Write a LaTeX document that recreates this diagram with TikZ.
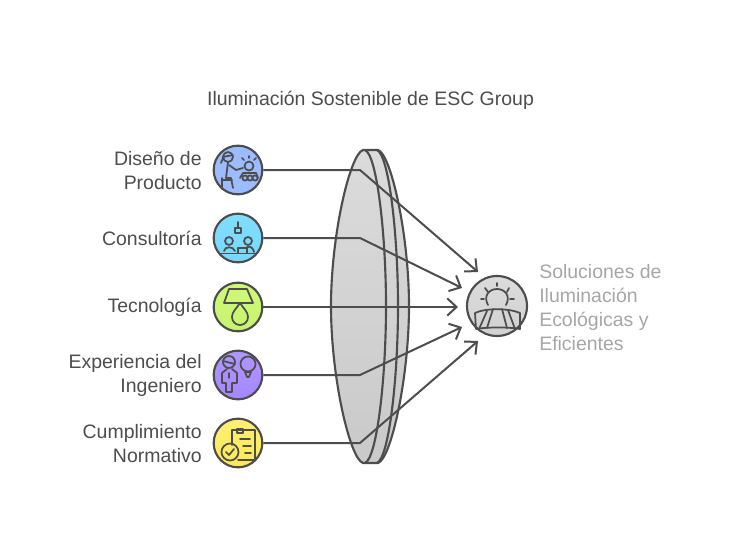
\documentclass[tikz,border=0pt]{standalone}
\usepackage{fontspec}
\setmainfont{Liberation Sans}
\usetikzlibrary{arrows.meta, positioning, calc}

\definecolor{inkgray}{HTML}{4D4D4D}
\definecolor{palegray}{HTML}{A6A6A6}

\tikzset{
    x=0.75pt, y=-0.75pt,
    ball/.style={circle, draw=inkgray, line width=1.6pt, minimum size=36.5pt, inner sep=0pt},
    lbl/.style={text=inkgray, font=\fontsize{14.6pt}{18pt}\selectfont, align=right, inner sep=0pt, yshift=-0.3pt},
    flow/.style={draw=inkgray, line width=1.5pt, line join=round, -{Straight Barb[length=7pt, width=13pt, line width=1.5pt]}},
    ico/.style={draw=inkgray, line width=1.3pt, line join=round, line cap=round},
}

\begin{document}
\begin{tikzpicture}
    \useasboundingbox (0, 0) rectangle (746, 560);

    % lens
    \path[draw=inkgray, line width=1.6pt, top color=black!14, bottom color=black!21]
        (363, 150) .. controls (350, 154) and (331, 235) .. (331, 306)
        .. controls (331, 378) and (350, 459) .. (363, 463)
        -- (378, 463) .. controls (391, 459) and (409, 378) .. (409, 306)
        .. controls (409, 235) and (391, 154) .. (378, 150) -- cycle;
    \draw[inkgray, line width=1.6pt]
        (365, 150) .. controls (377, 155) and (386, 235) .. (386, 306)
        .. controls (386, 378) and (377, 458) .. (365, 463);
    \draw[inkgray, line width=1.6pt]
        (377, 150) .. controls (389, 155) and (398, 235) .. (398, 306)
        .. controls (398, 378) and (389, 458) .. (377, 463);

    \node[lbl] (title) at (370.5, 99.5) {Iluminación Sostenible de ESC Group};

    \node[ball, fill={rgb,255:red,156;green,188;blue,255}] (prod) at (238, 170) {};
    \node[ball, shade, top color={rgb,255:red,128;green,222;blue,255}, bottom color={rgb,255:red,118;green,216;blue,255}] (cons) at (238, 238) {};
    \node[ball, shade, top color={rgb,255:red,208;green,248;blue,122}, bottom color={rgb,255:red,198;green,244;blue,110}] (tecn) at (238, 307) {};
    \node[ball, shade, top color={rgb,255:red,176;green,150;blue,255}, bottom color={rgb,255:red,165;green,135;blue,255}] (expe) at (238, 375) {};
    \node[ball, shade, top color={rgb,255:red,255;green,240;blue,115}, bottom color={rgb,255:red,255;green,232;blue,85}] (cump) at (238, 443) {};
    \node[ball, minimum size=45pt, shade, top color=black!14, bottom color=black!18] (sol) at (497, 306) {};

    \node[lbl, left=8pt of prod] (lprod) {Diseño de\\Producto};
    \node[lbl, left=8pt of cons] (lcons) {Consultoría};
    \node[lbl, left=8pt of tecn] (ltecn) {Tecnología};
    \node[lbl, left=8pt of expe] (lexpe) {Experiencia del\\Ingeniero};
    \node[lbl, left=8pt of cump] (lcump) {Cumplimiento\\Normativo};
    \node[lbl, text=palegray, align=left, anchor=west] (lsol) at (539, 307) {Soluciones de\\Iluminación\\Ecológicas y\\Eficientes};

    \coordinate (b1) at (360, 170);
    \coordinate (b2) at (360, 238);
    \coordinate (b4) at (360, 375);
    \coordinate (b5) at (360, 443);
    \coordinate (t1) at (478, 272);
    \coordinate (t2) at (462, 288);
    \coordinate (t3) at (458, 307);
    \coordinate (t4) at (462, 327);
    \coordinate (t5) at (478, 341);

    \draw[flow] (prod) -- (b1) -- (t1);
    \draw[flow] (cons) -- (b2) -- (t2);
    \draw[flow] (tecn) -- (t3);
    \draw[flow] (expe) -- (b4) -- (t4);
    \draw[flow] (cump) -- (b5) -- (t5);

    % designer
    \draw[ico] (228, 157) circle (5);
    \draw[ico] (223, 157) -- (233, 155) (223, 158) -- (221, 163);
    \draw[ico] (228, 162) -- (226, 178) -- (231, 178) -- (233, 188);
    \draw[ico] (229, 165) -- (236, 170) -- (243, 168);
    \draw[ico] (222, 178) -- (222, 189) (222, 180) -- (232, 180);
    \draw[ico] (249, 166) circle (4.5);
    \draw[ico] (240, 178) -- (243, 173) -- (256, 173) -- (258, 178);
    \foreach \xpos in {245, 250, 255}
        \draw[ico] (\xpos, 178) circle (2.6);
    \draw[ico] (249, 156) -- (249, 158) (242, 158) -- (244, 160) (256, 158) -- (254, 160);

    % consulting
    \draw[ico] (238, 222) -- (238, 228);
    \draw[ico] (235, 228) rectangle (241, 233);
    \draw[ico] (229, 241) circle (4) (248, 241) circle (4);
    \draw[ico] (224, 251) .. controls (225, 246) and (233, 246) .. (235, 251);
    \draw[ico] (247, 247) .. controls (251, 246) and (253, 248) .. (254, 252);
    \draw[ico] (238, 253) -- (238, 248) -- (247, 248) -- (247, 253);
    \draw[ico] (220, 253.5) -- (257, 253.5);

    % lamp
    \draw[ico] (229, 289) -- (247, 289) -- (253, 303) -- (224, 303) -- cycle;
    \draw[ico] (240, 303) .. controls (236, 309) and (232, 312) .. (232, 317)
        .. controls (232, 322) and (236, 325) .. (240, 325)
        .. controls (244, 325) and (248, 322) .. (248, 317)
        .. controls (248, 312) and (244, 309) .. (240, 303) -- cycle;

    % engineer
    \draw[ico] (229, 362) circle (6);
    \draw[ico] (223, 361) -- (235, 364);
    \draw[ico] (227, 369) -- (222, 373) -- (222, 383) -- (226, 383) -- (226, 392)
        -- (232, 392) -- (232, 383) -- (237, 383) -- (237, 373) -- (232, 369);
    \draw[ico] (229, 373) -- (229, 378);
    \draw[ico] (248, 364) circle (7.5);
    \draw[ico] (245, 372) -- (251, 372) (247, 377) -- (249, 377) (245, 372) -- (247, 377) (251, 372) -- (249, 377);

    % clipboard
    \draw[ico] (232, 445) -- (232, 430) -- (255, 430) -- (255, 460) -- (238, 460);
    \draw[ico] (237, 433) -- (237, 429) -- (243, 429) -- (243, 433) -- cycle;
    \draw[ico] (240, 439) -- (250, 439) (243, 446) -- (251, 446) (245, 453) -- (251, 453);
    \draw[ico] (230, 452) circle (8.5);
    \draw[ico] (226, 452) -- (229, 455) -- (234, 449);

    % sun over field
    \draw[ico] (488, 305) .. controls (483, 296) and (489, 289) .. (497, 289)
        .. controls (505, 289) and (511, 296) .. (506, 305);
    \draw[ico] (497, 283) -- (497, 286) (485, 288) -- (488, 292) (509, 288) -- (507, 292)
        (481, 299) -- (484, 299) (510, 299) -- (514, 299);
    \draw[ico] (476, 329) -- (475, 313) .. controls (485, 308) and (509, 308) .. (520, 313)
        -- (520, 329) .. controls (510, 327) and (486, 327) .. (476, 329);
    \draw[ico] (487, 311) -- (479, 329) (493, 309) -- (487, 328) (502, 309) -- (507, 328) (508, 310) -- (515, 329);
\end{tikzpicture}
\end{document}
